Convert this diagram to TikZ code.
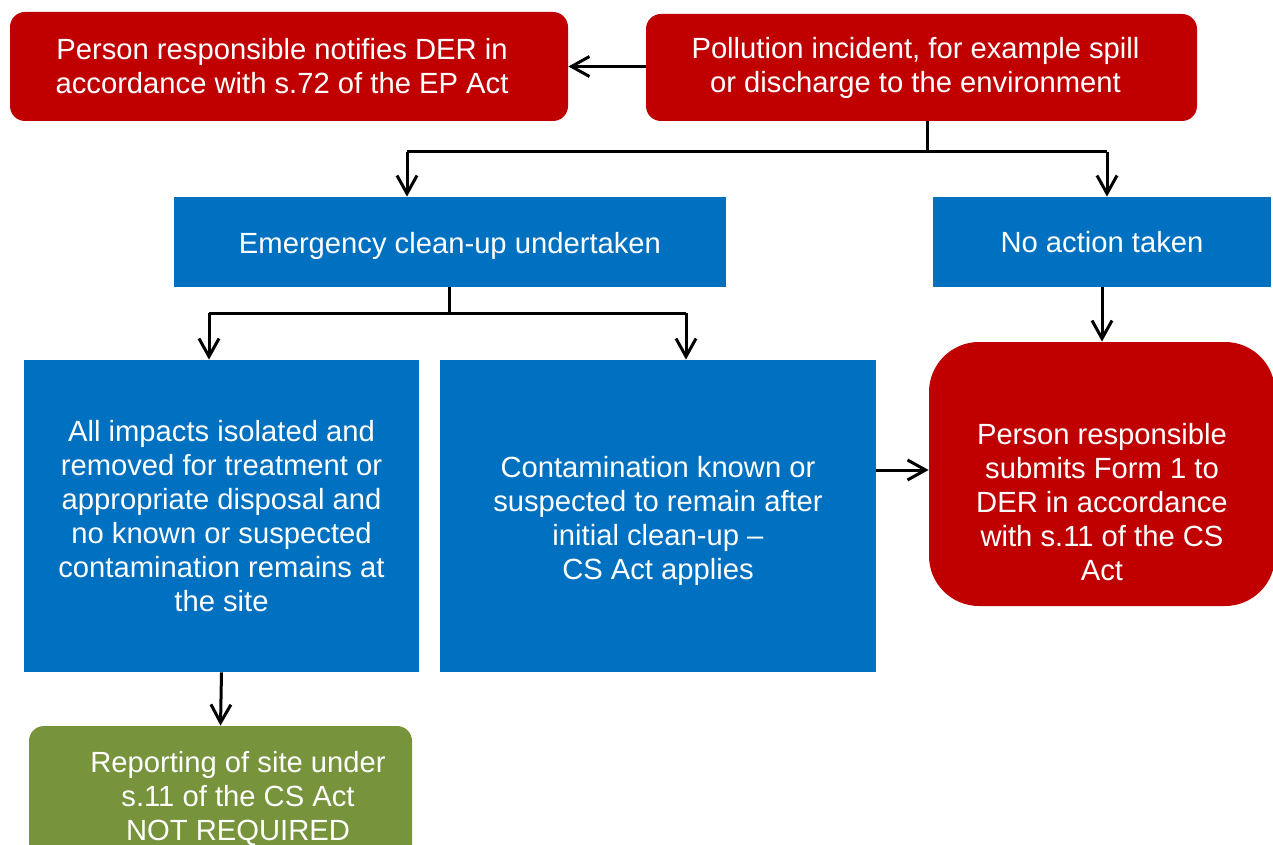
\documentclass[tikz,border=0pt]{standalone}
\usepackage{fontspec}
\setmainfont{Liberation Sans}
\usetikzlibrary{arrows.meta}
\definecolor{derred}{HTML}{C00000}
\definecolor{derblue}{HTML}{0070C0}
\definecolor{dergreen}{HTML}{77933C}
\begin{document}
\begin{tikzpicture}[x=0.5pt,y=-0.5pt,
  boxtext/.style={text=white,align=center,font=\fontsize{14.6pt}{17pt}\selectfont,inner sep=0pt},
  redbox/.style={boxtext,fill=derred,rounded corners=7.5pt},
  bluebox/.style={boxtext,fill=derblue},
  arr/.style={line width=1.5pt,-{Straight Barb[length=9pt,width=10pt,line width=1.5pt]}}]
\useasboundingbox (0,0) rectangle (1273,845);
\clip (0,0) rectangle (1273,845);
\node[redbox,minimum width=279pt,minimum height=54.5pt] (notify) at (289,66.5) {\hspace*{-7pt}Person responsible notifies DER in\\\hspace*{-7pt}accordance with s.72 of the EP Act};
\node[redbox,minimum width=275.5pt,minimum height=53.5pt] (incident) at (921.5,67.5) {\hspace*{-6pt}Pollution incident, for example spill\\\hspace*{-6pt}or discharge to the environment};
\node[bluebox,minimum width=276pt,minimum height=45pt,text height=15pt,text depth=3pt] (cleanup) at (450,242) {Emergency clean-up undertaken};
\node[bluebox,minimum width=169pt,minimum height=45pt] (noaction) at (1102,242) {No action taken};
\node[bluebox,minimum width=197.5pt,minimum height=156pt] (impacts) at (221.5,516) {All impacts isolated and\\removed for treatment or\\appropriate disposal and\\no known or suspected\\contamination remains at\\the site};
\node[bluebox,minimum width=218pt,minimum height=156pt] (contam) at (658,516) {\rule{0pt}{15.5pt}Contamination known or\\suspected to remain after\\initial clean-up --\\CS Act applies};
\node[redbox,rounded corners=25pt,minimum width=173pt,minimum height=132pt] (submit) at (1102,474) {};
\node[boxtext] (submittext) at (1102,502) {Person responsible\\submits Form 1 to\\DER in accordance\\with s.11 of the CS\\Act};
\node[redbox,fill=dergreen,minimum width=191.5pt,minimum height=70pt] (report) at (220.5,796) {};
\node[boxtext] (reporttext) at (238,799) {Reporting of site under\\s.11 of the CS Act\\NOT REQUIRED};
\coordinate (split1) at (927,152);
\coordinate (left1) at (407,152);
\coordinate (right1) at (1107,152);
\coordinate (split2) at (449,313);
\coordinate (left2) at (209,313);
\coordinate (right2) at (686,313);
\coordinate (side) at (0,470);
\draw[arr] (incident.west |- notify.east) -- (notify.east);
\draw[line width=1.5pt] (split1 |- incident.south) -- (split1);
\draw[line width=1.5pt] (left1) -- (right1);
\draw[arr] (left1) -- (left1 |- cleanup.north);
\draw[arr] (right1) -- (right1 |- noaction.north);
\draw[line width=1.5pt] (split2 |- cleanup.south) -- (split2);
\draw[line width=1.5pt] (left2) -- (right2);
\draw[arr] (left2) -- (left2 |- impacts.north);
\draw[arr] (right2) -- (right2 |- contam.north);
\draw[arr] (contam.east |- side) -- (submit.west |- side);
\draw[arr] (noaction.south) -- (submit.north);
\draw[arr] (impacts.south) -- (report.north);
\end{tikzpicture}
\end{document}
